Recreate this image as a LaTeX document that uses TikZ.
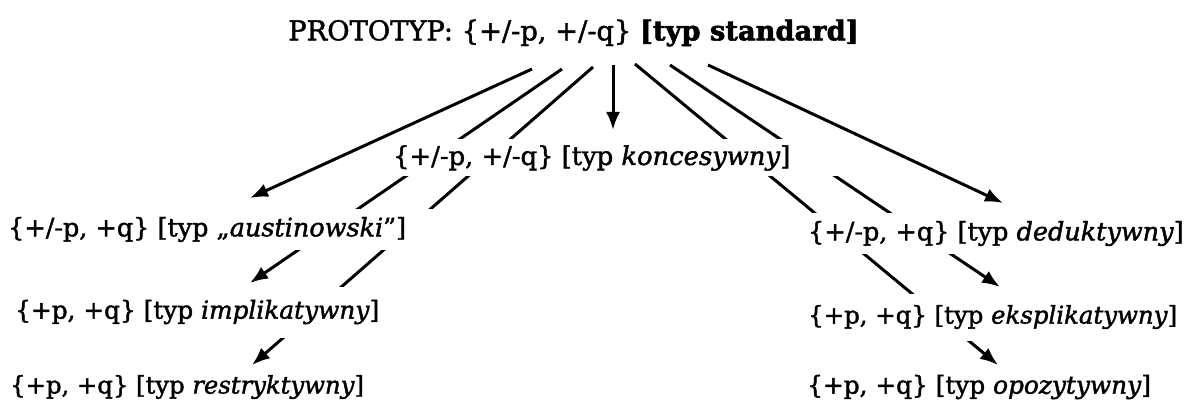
\documentclass[tikz,border=0pt]{standalone}
\usepackage{fontspec}
\setmainfont{DejaVu Serif}[FakeBold=1.6]
\newfontfamily\titlebold{DejaVu Serif Bold}[FakeBold=2.2]
\usetikzlibrary{arrows.meta}
\pgfdeclarelayer{background}
\pgfsetlayers{background,main}
\tikzset{
  lbl/.style={fill=white, inner xsep=3pt, inner ysep=0pt, anchor=west,
    font=\fontsize{25.5}{30}\selectfont},
  conn/.style={line width=3pt, -{Latex[length=18pt,width=14pt]}}
}
\begin{document}
\begin{tikzpicture}[x=1pt,y=-1pt]
\useasboundingbox (0,0) rectangle (1187,401);
\node[font=\fontsize{27.3}{31}\selectfont, inner sep=0pt] (proto) at (573.5,33)
  {PROTOTYP: \{+/-p, +/-q\} {\titlebold [typ standard]}};
\node[lbl, minimum height=37pt, font=\fontsize{25.8}{30}\selectfont] (kon) at (390,158)
  {\makebox[442pt][l]{\{+/-p, +/-q\} [typ \textit{koncesywny}]}};
\node[lbl, minimum height=41pt] (aus) at (5,229.5)
  {\makebox[423pt][l]{\{+/-p, +q\} [typ „\textit{austinowski}”]}};
\node[lbl, minimum height=51pt, font=\fontsize{24.8}{30}\selectfont] (imp) at (12,312)
  {\makebox[365pt][l]{\{+p, +q\} [typ \textit{implikatywny}]}};
\node[lbl, font=\fontsize{24.3}{30}\selectfont] (res) at (7,387)
  {\{+p, +q\} [typ \textit{restryktywny}]};
\node[lbl, minimum height=41pt] (ded) at (805,233.5)
  {\makebox[374pt][l]{\{+/-p, +q\} [typ \textit{deduktywny}]}};
\node[lbl, minimum height=47pt, font=\fontsize{24.4}{30}\selectfont] (eks) at (805,317)
  {\makebox[374pt][l]{\{+p, +q\} [typ \textit{eksplikatywny}]}};
\node[lbl, font=\fontsize{24.8}{30}\selectfont] (opo) at (804,387)
  {\{+p, +q\} [typ \textit{opozytywny}]};
% connector ends
\coordinate (s1) at (532,69);  \coordinate (t1) at (250,198);
\coordinate (s2) at (562,69);  \coordinate (t2) at (250,283);
\coordinate (s3) at (593,67);  \coordinate (t3) at (252,365);
\coordinate (s4) at (613,65);  \coordinate (t4) at (613,130);
\coordinate (s5) at (635,64);  \coordinate (t5) at (998,365);
\coordinate (s6) at (670,65);  \coordinate (t6) at (1000,287);
\coordinate (s7) at (708,65);  \coordinate (t7) at (1003,203);
\begin{pgfonlayer}{background}
  \draw[conn] (s1) -- (t1);
  \draw[conn] (s2) -- (t2);
  \draw[conn] (s3) -- (t3);
  \draw[conn] (s4) -- (t4);
  \draw[conn] (s5) -- (t5);
  \draw[conn] (s6) -- (t6);
  \draw[conn] (s7) -- (t7);
\end{pgfonlayer}
\end{tikzpicture}
\end{document}
